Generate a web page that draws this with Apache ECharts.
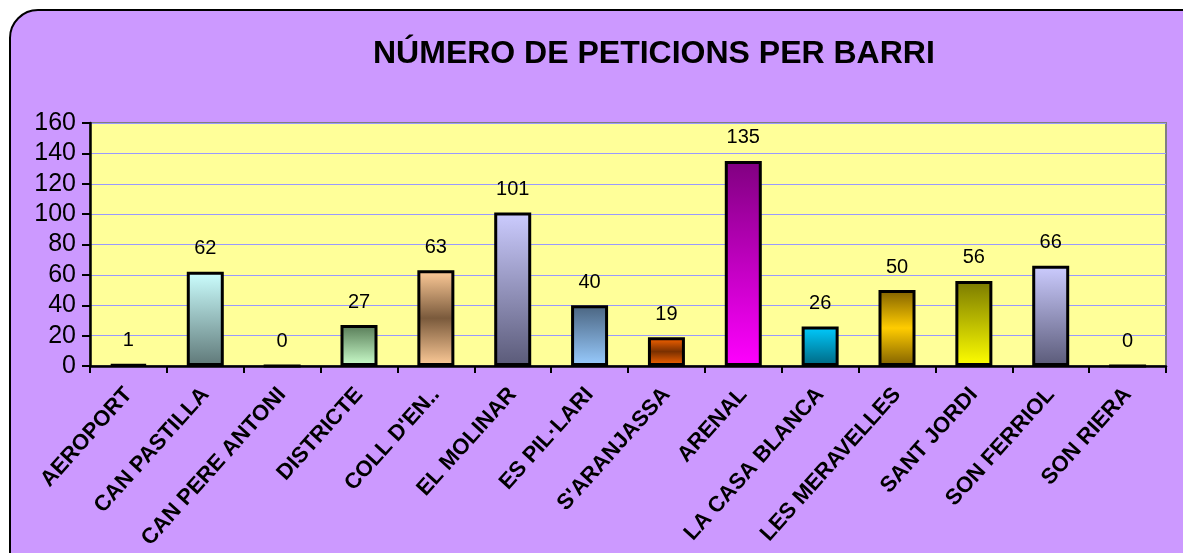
<!DOCTYPE html>
<html>
<head>
<meta charset="utf-8">
<script src="https://cdn.jsdelivr.net/npm/echarts@6/dist/echarts.min.js"></script>
<style>
  html, body { margin: 0; padding: 0; background: #ffffff; }
  #chart { width: 1183px; height: 553px; }
</style>
</head>
<body>
<div id="chart"></div>
<script>
// barris (categories)
const barris = [
  "AEROPORT", "CAN PASTILLA", "CAN PERE ANTONI", "DISTRICTE", "COLL D'EN..",
  "EL MOLINAR", "ES PIL·LARI", "S'ARANJASSA", "ARENAL", "LA CASA BLANCA",
  "LES MERAVELLES", "SANT JORDI", "SON FERRIOL", "SON RIERA"
];
// número de peticions
const peticions = [1, 62, 0, 27, 63, 101, 40, 19, 135, 26, 50, 56, 66, 0];
// y axis
const yMin = 0;
const yMax = 160;
const yStep = 20;

// colors per bar, top -> (middle) -> bottom
const barColors = [
  ["#333333", "#000000"],
  ["#ccffff", "#5f7878"],
  ["#999999", "#666666"],
  ["#567a56", "#ccffcc"],
  ["#ffcc99", "#7a5a3c", "#ffcc99"],
  ["#ccccff", "#5a5a78"],
  ["#4a6480", "#99ccff"],
  ["#ff6600", "#7a3000", "#ff6600"],
  ["#800080", "#ff00ff"],
  ["#00ccff", "#006680"],
  ["#806000", "#ffcc00", "#806000"],
  ["#7a7a00", "#ffff00"],
  ["#ccccff", "#5a5a78"],
  ["#999999", "#666666"]
];

function gradient(stops) {
  const n = stops.length - 1;
  return new echarts.graphic.LinearGradient(0, 0, 0, 1,
    stops.map((c, i) => ({ offset: i / n, color: c })));
}

const chart = echarts.init(document.getElementById("chart"));

const option = {
  animation: false,
  graphic: [
    {
      type: "rect",
      z: -10,
      silent: true,
      shape: { x: 10, y: 10, width: 1220, height: 590, r: 28 },
      style: { fill: "#cc99ff", stroke: "#000000", lineWidth: 2 }
    }
  ],
  title: {
    text: "NÚMERO DE PETICIONS PER BARRI",
    left: 368,
    top: 33,
    textStyle: {
      fontFamily: "Liberation Sans, Arial, sans-serif",
      fontSize: 32,
      fontWeight: "bold",
      color: "#000000"
    }
  },
  grid: {
    left: 90,
    right: 17,
    top: 123,
    bottom: 187,
    show: true,
    backgroundColor: "#ffff99",
    borderColor: "#808080",
    borderWidth: 2
  },
  xAxis: {
    type: "category",
    data: barris,
    axisLine: { lineStyle: { color: "#000000", width: 2.5 } },
    axisTick: { show: true, length: 7, lineStyle: { color: "#000000", width: 2 } },
    axisLabel: {
      rotate: 48,
      interval: 0,
      margin: 25,
      fontFamily: "Liberation Sans, Arial, sans-serif",
      fontSize: 22,
      fontWeight: "bold",
      color: "#000000"
    }
  },
  yAxis: {
    type: "value",
    min: yMin,
    max: yMax,
    interval: yStep,
    axisLine: { show: true, lineStyle: { color: "#000000", width: 2.5 } },
    axisTick: { show: true, length: 8, lineStyle: { color: "#000000", width: 2 } },
    splitLine: { lineStyle: { color: "#9999ff", width: 1.2 } },
    axisLabel: {
      margin: 14,
      fontFamily: "Liberation Sans, Arial, sans-serif",
      fontSize: 25,
      color: "#000000"
    }
  },
  series: [
    {
      type: "bar",
      barWidth: 37,
      data: peticions.map((v, i) => ({
        value: v,
        itemStyle: {
          color: gradient(barColors[i]),
          borderColor: "#000000",
          borderWidth: 3
        }
      })),
      label: {
        show: true,
        position: "top",
        distance: 13,
        fontFamily: "Liberation Sans, Arial, sans-serif",
        fontSize: 20,
        color: "#000000"
      }
    }
  ]
};

chart.setOption(option);
</script>
</body>
</html>
